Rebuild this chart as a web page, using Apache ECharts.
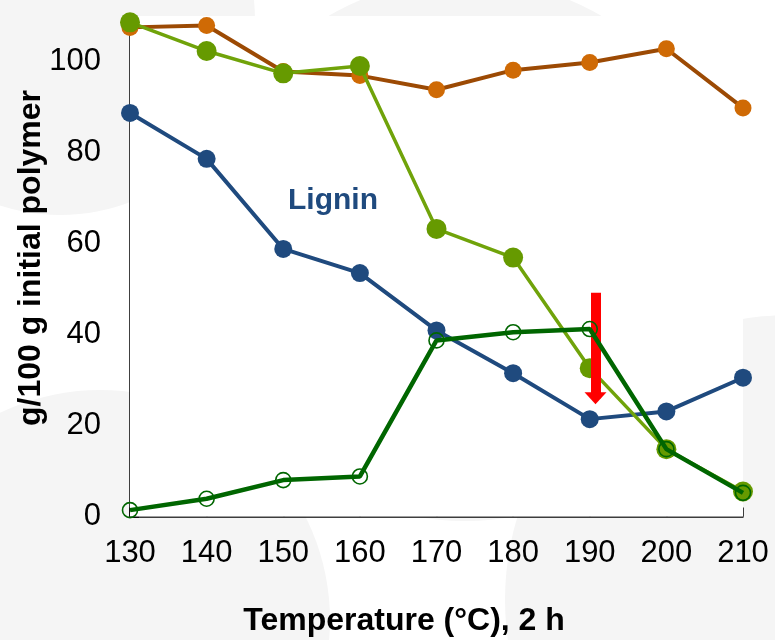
<!DOCTYPE html>
<html>
<head>
<meta charset="utf-8">
<script src="https://cdn.jsdelivr.net/npm/echarts@6/dist/echarts.min.js"></script>
<style>
html, body { margin: 0; padding: 0; background: #fff; }
#chart { width: 775px; height: 640px; }
</style>
</head>
<body>
<div id="chart"></div>
<script>
// data
var temps        = [130, 140, 150, 160, 170, 180, 190, 200, 210];
var glucan       = [107.5, 107.9, 97.8, 96.9, 93.8, 98.1, 99.8, 102.8, 89.8];
var xylan        = [108.6, 102.3, 97.4, 99.0, 63.2, 56.9, 32.6, 14.8, 5.5];
var lignin       = [88.7, 78.6, 58.8, 53.5, 40.9, 31.5, 21.4, 23.1, 30.5];
var solubleXylan = [1.4, 3.9, 8.0, 8.8, 38.7, 40.5, 41.2, 14.8, 5.2];
var yTicks       = [0, 20, 40, 60, 80, 100];
// red arrow (x, from, to) in data units
var arrowX = 190.75, arrowFrom = 49.2, arrowTo = 26.0;

var FONT = "'Liberation Sans', Arial, sans-serif";

function pairs(vals){
    var out = [];
    for (var i = 0; i < temps.length; i++){
        out.push([temps[i], vals[i]]);
    }
    return out;
}

var myChart = echarts.init(document.getElementById('chart'));

var series = [];
series.push({
    name: 'Glucan',
    type: 'line',
    z: 2,
    data: pairs(glucan),
    symbol: 'circle',
    symbolSize: 17,
    lineStyle: { color: '#9c4a04', width: 4 },
    itemStyle: { color: '#cf6a05' }
});
series.push({
    name: 'Lignin',
    type: 'line',
    z: 3,
    data: pairs(lignin),
    symbol: 'circle',
    symbolSize: 18,
    lineStyle: { color: '#1f4a7e', width: 4 },
    itemStyle: { color: '#1f4a7e' }
});
series.push({
    name: 'Xylan',
    type: 'line',
    z: 4,
    data: pairs(xylan),
    symbol: 'circle',
    symbolSize: 20,
    lineStyle: { color: '#70a30a', width: 3.5 },
    itemStyle: { color: '#669a00' }
});
series.push({
    name: 'Soluble xylan',
    type: 'line',
    z: 5,
    data: pairs(solubleXylan),
    symbol: 'circle',
    symbolSize: 15,
    lineStyle: { color: '#006600', width: 4.5 },
    itemStyle: { color: 'rgba(0,0,0,0)', borderColor: '#006600', borderWidth: 1.6 }
});
// arrow
series.push({
    name: 'arrow',
    type: 'line',
    z: 10,
    data: [],
    markLine: {
        silent: true,
        animation: false,
        symbol: ['none', 'triangle'],
        symbolSize: [22, 12],
        label: { show: false },
        lineStyle: { color: '#ff0000', width: 10, type: 'solid' },
        itemStyle: { color: '#ff0000' },
        data: [[
            { coord: [arrowX, arrowFrom] },
            { coord: [arrowX, arrowTo] }
        ]]
    }
});

var option = {
    animation: false,
    backgroundColor: '#ffffff',
    textStyle: { fontFamily: FONT },
    grid: {
        left: 130,
        right: 32,
        top: 16,
        bottom: 123.5,
        show: true,
        backgroundColor: '#ffffff',
        borderWidth: 0,
        z: 1
    },
    graphic: [
        // faint watermark shapes behind the plot
        { type: 'circle', z: -10, shape: { cx: 60, cy: 20, r: 195 }, style: { fill: '#f5f5f5' } },
        { type: 'circle', z: -10, shape: { cx: 465, cy: 250, r: 271 }, style: { fill: '#f5f5f5' } },
        { type: 'circle', z: -10, shape: { cx: 100, cy: 620, r: 230 }, style: { fill: '#f5f5f5' } },
        { type: 'circle', z: -10, shape: { cx: 790, cy: 600, r: 285 }, style: { fill: '#f5f5f5' } },
        {
            type: 'text', z: 100, left: 288, top: 186,
            style: { text: 'Lignin', fill: '#1f4a7e', font: 'bold 30px ' + FONT }
        },
        {
            type: 'text', z: 100, x: 404, y: 621,
            style: { text: 'Temperature (°C), 2 h', fill: '#000', font: 'bold 32px ' + FONT,
                     textAlign: 'center', textVerticalAlign: 'middle' }
        },
        {
            type: 'text', z: 100, x: 31, y: 258, rotation: Math.PI / 2,
            style: { text: 'g/100 g initial polymer', fill: '#000', font: 'bold 32px ' + FONT,
                     textAlign: 'center', textVerticalAlign: 'middle' }
        }
    ],
    xAxis: {
        type: 'value',
        min: 130,
        max: 210,
        interval: 10,
        splitLine: { show: false },
        axisLine: { onZero: false, lineStyle: { color: '#000', width: 1.5 } },
        axisTick: { inside: true, length: 9, lineStyle: { color: '#000', width: 1.5 } },
        axisLabel: { color: '#000', fontSize: 31, margin: 21, fontFamily: FONT }
    },
    yAxis: {
        type: 'value',
        min: 0,
        max: 110,
        interval: 20,
        splitLine: { show: false },
        axisLine: { show: true, lineStyle: { color: '#000', width: 1.5 } },
        axisTick: { show: true, inside: true, length: 9, customValues: yTicks,
                    lineStyle: { color: '#000', width: 1.5 } },
        axisLabel: { color: '#000', fontSize: 31, margin: 29, fontFamily: FONT,
                     customValues: yTicks }
    },
    series: series
};

myChart.setOption(option);
</script>
</body>
</html>
